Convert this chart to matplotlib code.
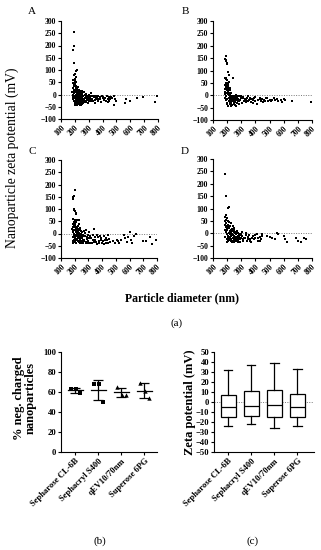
import matplotlib
matplotlib.use('Agg')
import matplotlib.pyplot as plt
import numpy as np

plt.rcParams['font.family'] = ['Liberation Serif', 'DejaVu Serif']

# ---------------- data ----------------
A_pts = [(195,255),(192,197),(189,183),(196,127),(213,100),(208,95),(200,85),(195,78),(205,72),(200,62),(190,58),(198,55),(210,50),(185,45),(195,40),(205,35),(220,30),(188,25),(200,20),(212,15),(180,12),(230,18),(240,12),(250,8),(225,5),(195,5),(205,0),(215,-5),(190,-3),(235,-2),(245,-8),(255,-12),(200,-15),(210,-20),(220,-25),(230,-30),(240,-35),(250,-40),(215,-42),(225,-38),(260,-20),(270,-15),(280,-10),(290,-5),(300,-18),(310,-12),(320,5),(330,-25),(340,-8),(350,-15),(360,-20),(370,-5),(380,-12),(390,-30),(400,-10),(410,-22),(420,-15),(430,-5),(440,-18),(450,-25),(460,-10),(480,-42),(490,-20),(500,-28),(560,-35),(570,-20),(600,-25),(650,-15),(690,-12),(780,-30),(790,-8),(265,-30),(275,0),(285,-22),(295,-35),(305,0),(315,-28),(325,-18),(345,-35),(355,-5),(365,-28),(255,15),(265,10),(245,-25),(235,-42),(200,-35),(190,-20),(185,10),(207,28),(218,-12),(228,-18),(238,2),(248,-15),(258,-5),(268,-22),(192,35),(198,48),(203,-8),(208,10),(213,-30),(218,22),(223,-10),(228,8),(233,-22),(238,-12),(243,5),(186,-8),(194,-28),(202,-42),(211,-2),(217,-35),(224,-20),(232,12),(241,-28),(252,-32),(262,-8),(272,-25),(283,3),(298,-12),(312,-20),(335,-12),(372,-18),(395,-8),(425,-25),(445,-10),(470,-15),(197,18),(204,42),(209,-12),(214,8),(221,-18),(226,-28),(231,-5),(236,15),(242,-18),(247,-2),(253,-22),(183,0),(187,-15),(191,12),(199,-25),(206,-40),(216,-25),(222,0),(229,-40),(234,-32),(244,-42),(251,2),(261,-35),(277,-32),(288,-18),(303,-25),(318,-5),(328,-8),(342,-22),(358,-12),(385,-20),(405,-15),(436,-30),(455,-18),(485,-5)]

B_pts = [(185,145),(192,160),(197,132),(200,128),(189,138),(195,142),(205,95),(213,82),(240,70),(195,70),(190,65),(200,62),(210,55),(185,68),(198,50),(203,45),(188,40),(193,35),(207,30),(215,25),(220,20),(185,15),(195,10),(205,5),(212,0),(218,-5),(225,-10),(230,-15),(235,-20),(240,-25),(245,-30),(250,-35),(255,-40),(260,-45),(190,-5),(200,-15),(210,-25),(220,-35),(230,-42),(240,-10),(250,-5),(260,0),(270,-10),(280,-15),(290,-20),(300,-5),(310,-12),(320,-25),(330,-18),(340,-10),(350,-22),(360,-15),(370,-28),(380,-20),(390,-12),(400,-25),(410,-35),(420,-18),(430,-10),(440,-22),(450,-15),(460,-20),(470,-25),(480,-12),(500,-18),(520,-18),(540,-20),(560,-25),(580,-20),(600,-15),(610,-20),(660,-22),(790,-28),(187,25),(192,-20),(197,20),(202,-30),(208,12),(213,-12),(217,-28),(222,5),(227,-20),(232,-2),(237,-38),(243,-15),(248,-22),(253,-10),(258,-28),(263,-18),(268,-32),(275,-5),(285,-25),(295,-12),(305,-30),(315,-8),(325,-15),(335,-28),(345,-5),(355,-18),(365,-10),(375,-15),(385,-30),(395,-8),(415,-20),(435,-15),(455,-28),(475,-10),(490,-22),(510,-25),(530,-12),(550,-15),(590,-28),(183,5),(188,-12),(194,28),(199,-35),(204,18),(209,-42),(214,8),(219,-18),(224,-30),(229,10),(234,-8),(244,-2),(254,-18),(264,-8),(274,-25),(284,-35),(294,-2),(189,50),(199,40),(209,38),(219,30),(229,-25)]

C_pts = [(188,140),(193,155),(200,178),(186,148),(198,100),(203,92),(208,85),(195,95),(212,80),(220,55),(232,55),(190,60),(200,55),(196,48),(185,40),(192,35),(205,30),(215,25),(225,20),(235,15),(245,10),(255,5),(183,20),(190,10),(198,0),(206,-5),(214,-10),(222,-15),(230,-20),(238,-25),(246,-30),(254,-35),(262,-40),(188,-15),(196,-25),(204,-35),(212,-40),(220,5),(228,-8),(236,0),(244,-12),(252,-20),(260,-10),(270,-25),(280,-35),(290,-15),(300,-30),(310,-40),(320,-20),(330,-8),(340,-35),(350,-25),(360,-42),(370,-15),(380,-30),(390,-20),(400,-38),(410,-10),(420,-28),(430,-40),(440,-5),(450,-22),(460,-35),(480,-30),(495,-38),(505,-25),(515,-32),(525,-40),(540,-28),(560,-5),(570,-20),(580,-35),(590,-15),(600,5),(610,-25),(620,-40),(630,-10),(650,0),(700,-30),(720,-30),(750,-15),(760,-42),(790,-25),(275,-10),(285,-40),(295,-5),(305,-20),(315,-12),(325,-38),(335,-28),(345,-15),(355,-35),(365,-5),(375,-40),(385,-12),(395,-25),(405,-30),(415,-42),(425,-18),(435,-25),(445,-38),(187,5),(191,25),(194,-5),(197,15),(201,-20),(204,40),(207,8),(210,-28),(213,12),(217,-2),(221,-30),(224,30),(227,-18),(231,3),(234,-35),(237,-10),(241,22),(248,-2),(257,-25),(265,12),(268,-30),(278,2),(288,-22),(298,-38),(184,-30),(189,-38),(199,-10),(209,18),(219,-22),(229,38),(239,-38),(249,-18),(259,-8),(199,28),(211,45),(223,10),(243,-40),(282,15),(305,5),(338,20)]

D_pts = [(185,240),(192,152),(210,108),(205,103),(190,75),(195,72),(200,62),(188,65),(193,55),(205,50),(215,45),(225,40),(240,30),(185,35),(195,30),(205,25),(215,20),(225,15),(235,10),(245,5),(255,0),(265,-5),(275,-10),(285,-15),(295,-20),(183,15),(190,5),(198,-5),(206,-10),(214,-15),(222,-20),(230,-25),(238,-30),(246,-35),(254,-25),(262,-30),(270,-20),(278,-28),(286,-5),(294,-35),(302,-12),(310,-25),(320,-18),(330,-8),(340,-30),(350,-15),(360,-22),(370,-35),(380,-10),(390,-25),(400,-18),(410,-5),(420,-30),(430,-15),(440,-22),(450,-10),(480,-10),(500,-15),(520,-20),(540,-22),(550,0),(560,-5),(600,-12),(610,-25),(620,-35),(690,-18),(700,-30),(720,-35),(740,-18),(760,-25),(187,-15),(192,25),(197,-25),(202,12),(207,-30),(212,2),(217,-5),(222,28),(227,-12),(232,-35),(237,-2),(242,-18),(247,15),(252,-12),(257,-32),(262,5),(267,-15),(272,-30),(277,0),(282,-22),(292,-8),(305,5),(315,-30),(325,-20),(335,0),(345,-25),(355,-8),(365,-30),(375,-20),(395,-8),(415,-20),(435,-30),(445,-5),(186,50),(194,40),(200,18),(209,35),(219,-25),(229,5),(239,-20),(249,-28),(259,-15),(269,8),(279,-35),(289,-25),(299,-2),(196,-35),(204,-18),(211,-28),(218,10),(226,-32),(233,18),(244,-8),(251,20),(264,-22)]

panel_letters = ['A', 'B', 'C', 'D']
x_ticks = [100, 200, 300, 400, 500, 600, 700, 800]
y_ticks = [-100, -50, 0, 50, 100, 150, 200, 250, 300]

columns = ['Sepharose CL-6B', 'Sephacryl S400', 'qEV10/70nm', 'Superose 6PG']
neg_pct = [[63, 63, 59], [68, 68, 50], [65, 57, 57], [69, 61, 54]]
neg_markers = ['s', 's', '^', '^']

box_whislo = [-24, -22, -26, -24]
box_q1 = [-15, -14, -15, -15]
box_med = [-5, -4, -3, -5]
box_q3 = [7, 11, 12, 8]
box_whishi = [32, 37, 39, 33]

# ---------------- figure ----------------
W, H = 321, 550
fig = plt.figure(figsize=(W / 100, H / 100), dpi=100)

def ax_px(l, t, r, b):
    return fig.add_axes([l / W, 1 - b / H, (r - l) / W, (b - t) / H])

def style(ax, fs=5.5):
    for s in ['top', 'right']:
        ax.spines[s].set_visible(False)
    for s in ['left', 'bottom']:
        ax.spines[s].set_linewidth(0.8)
    ax.tick_params(direction='out', length=2.5, width=0.8, labelsize=fs, pad=1)
    for lab in ax.get_yticklabels():
        lab.set_fontweight('bold')

rects = [(61, 21, 158, 119), (213, 21, 312, 120), (61, 160, 157, 258), (213, 159, 312, 258)]
letter_pos = [(32, 11), (185, 11), (32, 152), (185, 152)]
for pts, rect, letter, lp in zip([A_pts, B_pts, C_pts, D_pts], rects, panel_letters, letter_pos):
    ax = ax_px(*rect)
    arr = np.array(pts, dtype=float)
    ax.axhline(0, color='#777777', ls=(0, (1, 1.5)), lw=0.7, zorder=1)
    ax.scatter(arr[:, 0], arr[:, 1], s=4, marker='s', c='black', linewidths=0, zorder=2)
    ax.set_xlim(100, 800)
    ax.set_ylim(-100, 300)
    ax.set_xticks(x_ticks)
    ax.set_yticks(y_ticks)
    ax.set_xticklabels([str(v) for v in x_ticks], rotation=45, ha='right', va='top',
                       rotation_mode='anchor', fontweight='bold')
    style(ax)
    fig.text(lp[0] / W, 1 - lp[1] / H, letter, fontsize=8, ha='center', va='center')

fig.text(12 / W, 1 - 158 / H, 'Nanoparticle zeta potential (mV)', rotation=90,
         fontsize=9.8, ha='center', va='center')
fig.text(182 / W, 1 - 298 / H, 'Particle diameter (nm)', fontsize=8.5,
         fontweight='bold', ha='center', va='center')
fig.text(177 / W, 1 - 323 / H, '(a)', fontsize=8, ha='center', va='center')

# ---------------- (b) ----------------
axb = ax_px(61, 352, 157, 452)
for i, (vals, m) in enumerate(zip(neg_pct, neg_markers)):
    vals = np.array(vals, dtype=float)
    offs = np.array([-0.18, 0.05, 0.22])
    axb.scatter(i + offs, vals, s=10, marker=m, c='black', linewidths=0, zorder=3)
    mu, sd = vals.mean(), vals.std(ddof=1)
    axb.plot([i - 0.33, i + 0.33], [mu, mu], color='black', lw=0.9)
    axb.errorbar(i, mu, yerr=sd, fmt='none', ecolor='black', elinewidth=0.9,
                 capsize=3.5, capthick=0.9)
axb.set_xlim(-0.62, 3.55)
axb.set_ylim(0, 100)
axb.set_yticks([0, 20, 40, 60, 80, 100])
axb.set_xticks(range(4))
axb.set_xticklabels(columns, rotation=45, ha='right', va='top', rotation_mode='anchor',
                    fontweight='bold', fontsize=8.8)
style(axb, fs=6.2)
fig.text(25 / W, 1 - 398 / H, '% neg. charged\nnanoparticles', rotation=90,
         fontsize=9, fontweight='bold', ha='center', va='center', linespacing=1.0)
fig.text(100 / W, 1 - 541 / H, '(b)', fontsize=8, ha='center', va='center')

# ---------------- (c) ----------------
axc = ax_px(214, 352, 314, 452)
stats = [dict(whislo=a, q1=b, med=c, q3=d, whishi=e, fliers=[])
         for a, b, c, d, e in zip(box_whislo, box_q1, box_med, box_q3, box_whishi)]
axc.axhline(0, color='#777777', ls=(0, (1, 1.5)), lw=0.7, zorder=1)
axc.bxp(stats, positions=range(4), widths=0.65, capwidths=0.36, showfliers=False,
        patch_artist=True,
        boxprops=dict(facecolor='white', edgecolor='black', linewidth=0.9),
        medianprops=dict(color='black', linewidth=0.9),
        whiskerprops=dict(color='black', linewidth=0.9),
        capprops=dict(color='black', linewidth=0.9), zorder=2)
axc.set_xlim(-0.62, 3.72)
axc.set_ylim(-50, 50)
axc.set_yticks(range(-50, 51, 10))
axc.set_xticks(range(4))
axc.set_xticklabels(columns, rotation=45, ha='right', va='top', rotation_mode='anchor',
                    fontweight='bold', fontsize=8.8)
style(axc, fs=6.2)
fig.text(190 / W, 1 - 402 / H, 'Zeta potential (mV)', rotation=90,
         fontsize=9, fontweight='bold', ha='center', va='center')
fig.text(253 / W, 1 - 541 / H, '(c)', fontsize=8, ha='center', va='center')

fig.savefig('out.png', dpi=100)
